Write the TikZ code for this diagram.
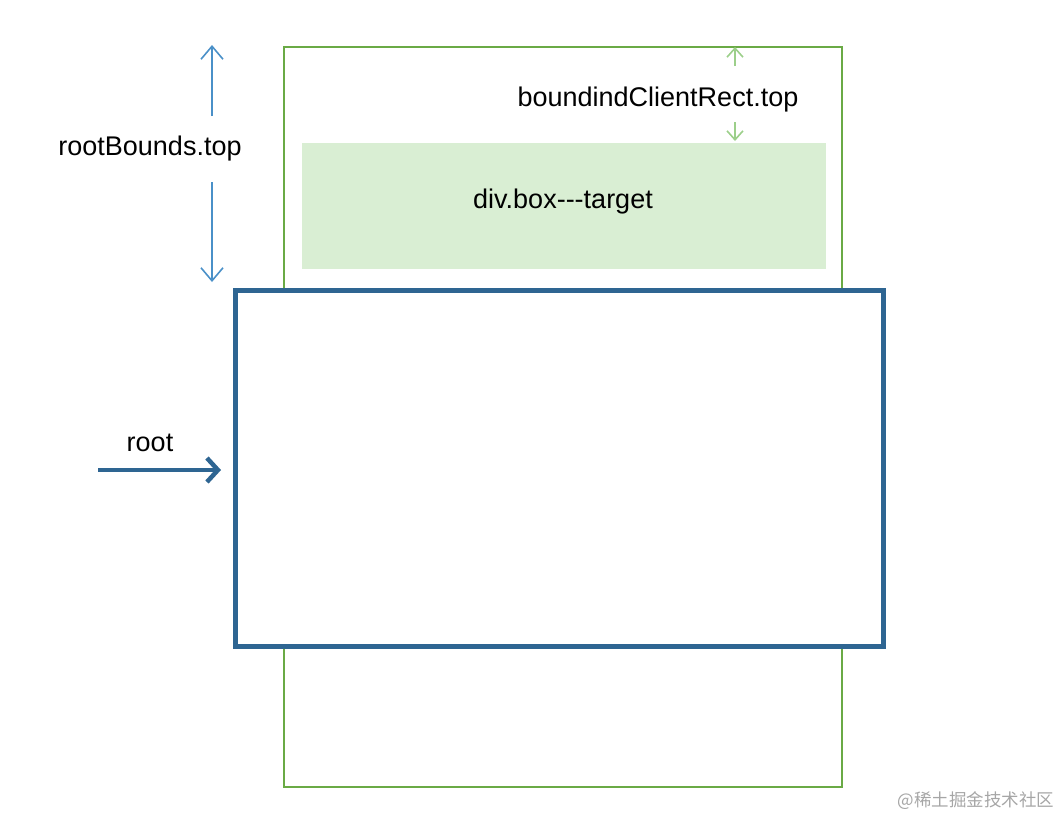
\documentclass[tikz,border=0pt]{standalone}
\usepackage{fontspec}
\setmainfont{Liberation Sans}
\newfontfamily\cjk{Noto Sans CJK SC}
\usetikzlibrary{arrows.meta}
\definecolor{outergreen}{HTML}{6AAA45}
\definecolor{fillgreen}{HTML}{D9EED3}
\definecolor{rootblue}{HTML}{2E6592}
\definecolor{lightblue}{HTML}{4A90C8}
\definecolor{lightgreen}{HTML}{9CCF8A}
\tikzset{
  lbl/.style={font=\fontsize{27}{30}\selectfont, inner sep=0pt},
  bluearr/.style={draw=lightblue, line width=1.6pt, -{Straight Barb[length=13pt,width=22pt,line width=1.6pt]}},
  greenarr/.style={draw=lightgreen, line width=1.6pt, -{Straight Barb[length=9pt,width=16pt,line width=1.6pt]}},
}
\begin{document}
\begin{tikzpicture}[x=1pt,y=-1pt]
\useasboundingbox (0,0) rectangle (1061,817);
% outer green container
\draw[outergreen, line width=2pt] (284,47) rectangle (842,787);
\coordinate (gtop) at (735,47);
% target box
\node[fill=fillgreen, minimum width=524pt, minimum height=126pt, inner sep=0pt, anchor=north west] (target) at (302,143) {};
\node[lbl] (targetlbl) at (563,202) {div.box{-}{-}{-}target};
% root box
\draw[rootblue, fill=white, line width=5pt] (235,290) rectangle (883,646);
\coordinate (rootleft) at (221,470);
\coordinate (rootTL) at (212,282);
% root arrow
\coordinate (rootstart) at (98,470);
\draw[draw=rootblue, line width=4.5pt, -{Straight Barb[length=11pt,width=24pt,line width=4.5pt]}] (rootstart) -- (rootleft);
\node[lbl] (rootlbl) at (150,443) {root};
% rootBounds.top
\node[lbl] (rbt) at (150,149) {rootBounds.top};
\coordinate (rbtup) at (212,116);
\coordinate (rbttop) at (212,45);
\coordinate (rbtdown) at (212,182);
\draw[bluearr] (rbtup) -- (rbttop);
\draw[bluearr] (rbtdown) -- (rootTL);
% boundingClientRect.top
\node[lbl] (bcr) at (658,100) {boundindClientRect.top};
\coordinate (bcrup) at (735,66);
\coordinate (bcrdown) at (735,122);
\coordinate (ttop) at (735,141);
\draw[greenarr] (bcrup) -- (gtop);
\draw[greenarr] (bcrdown) -- (ttop);
% watermark
\node[font=\cjk\fontsize{17.5}{20}\selectfont, text=black!35, inner sep=0pt] (wm) at (976,801) {@稀土掘金技术社区};
\end{tikzpicture}
\end{document}
